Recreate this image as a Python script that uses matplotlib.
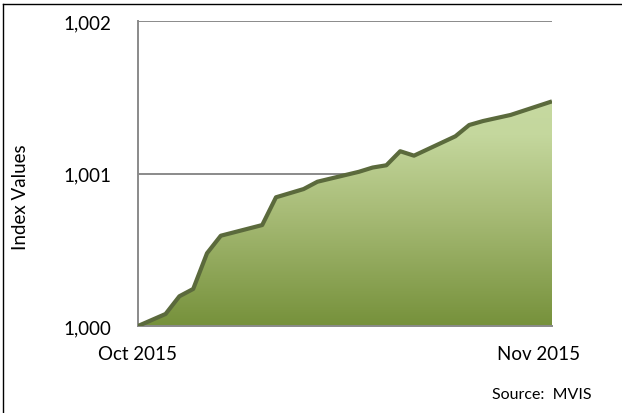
import numpy as np
import pandas as pd
import matplotlib
matplotlib.use("Agg")
import matplotlib.pyplot as plt
import matplotlib.dates as mdates
from matplotlib.lines import Line2D
from matplotlib.colors import LinearSegmentedColormap

# index level (first point is the base, then trading days)
dates = ["2015-10-03", "2015-10-05", "2015-10-06", "2015-10-07", "2015-10-08",
         "2015-10-09", "2015-10-12", "2015-10-13", "2015-10-14", "2015-10-15",
         "2015-10-16", "2015-10-19", "2015-10-20", "2015-10-21", "2015-10-22",
         "2015-10-23", "2015-10-26", "2015-10-27", "2015-10-28", "2015-10-29",
         "2015-10-30", "2015-11-02"]
index_values = [1000.000, 1000.079, 1000.195, 1000.243, 1000.477,
                1000.592, 1000.662, 1000.844, 1000.871, 1000.898,
                1000.946, 1001.011, 1001.039, 1001.054, 1001.146,
                1001.117, 1001.244, 1001.318, 1001.344, 1001.364,
                1001.384, 1001.473]
y_ticks = [1000, 1001, 1002]
y_tick_labels = ["1,000", "1,001", "1,002"]
x_tick_dates = ["2015-10-03", "2015-11-01"]
x_tick_labels = ["Oct 2015", "Nov 2015"]

plt.rcParams['font.family'] = ['Lato', 'DejaVu Sans']

x = mdates.date2num(pd.to_datetime(dates))
y = np.array(index_values)

fig = plt.figure(figsize=(6.22, 4.14), dpi=100)
ax = fig.add_axes([138 / 622, 1 - 327 / 414, (552 - 138) / 622, (327 - 22) / 414])

ax.set_xlim(x[0], x[-1])
ax.set_ylim(1000, 1002)

# gradient fill clipped to the area under the line
grad = LinearSegmentedColormap.from_list(
    "olive", [(0.0, "#76913b"), (0.5, "#a7bb76"), (0.85, "#c4d79d"), (1.0, "#c6d9a0")])
fill = ax.fill_between(x, 1000, y, color="none", lw=0)
img = ax.imshow(np.linspace(0, 1, 256).reshape(-1, 1), cmap=grad, aspect="auto",
                origin="lower", extent=[x[0], x[-1], 1000, 1001.47], zorder=1)
img.set_clip_path(fill.get_paths()[0], transform=ax.transData)

ax.plot(x, y, color="#5b6a3c", lw=3, solid_joinstyle="round",
        solid_capstyle="butt", zorder=3)

ax.set_yticks(y_ticks)
ax.set_yticklabels(y_tick_labels, fontsize=13.5)
ax.set_xticks(mdates.date2num(pd.to_datetime(x_tick_dates)))
ax.set_xticklabels(x_tick_labels, fontsize=13.5)
ax.tick_params(length=0)
ax.tick_params(axis="y", pad=19)
ax.tick_params(axis="x", pad=14)
ax.grid(axis="y", color="#8a8a8a", lw=1.4, zorder=0)
ax.set_axisbelow(True)

for side in ["top", "right"]:
    ax.spines[side].set_visible(False)
for side in ["left", "bottom"]:
    ax.spines[side].set_color("#8a8a8a")
    ax.spines[side].set_linewidth(1.4)

fig.text(21 / 622, 1 - 197 / 414, "Index Values", rotation=90, fontsize=13.5,
         ha="center", va="center")
fig.text(542 / 622, 1 - 395 / 414, "Source:  MVIS", fontsize=11.5,
         ha="center", va="center")

# chart frame (only left and top edges show in the crop)
fig.add_artist(Line2D([3 / 622, 3 / 622], [0, 1 - 5 / 414], color="black", lw=1))
fig.add_artist(Line2D([3 / 622, 1], [1 - 5 / 414, 1 - 5 / 414], color="black", lw=1))

fig.savefig("out.png", dpi=100)
